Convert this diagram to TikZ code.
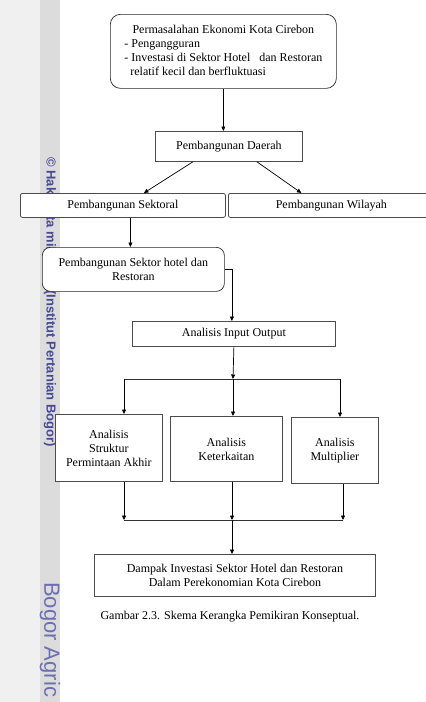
\documentclass[tikz,border=0pt]{standalone}
\usepackage{fontspec}
\setmainfont{Liberation Serif}
\newfontfamily\markfont{Liberation Sans}
\usetikzlibrary{arrows.meta,calc}
\definecolor{page-gray}{RGB}{240,240,240}
\definecolor{strip-gray}{RGB}{220,220,220}
\definecolor{mark-blue}{RGB}{72,72,150}
\definecolor{mark-light}{RGB}{110,110,180}
\tikzset{
    rounded-box/.style = {draw=black!85, fill=white, rounded corners=10pt, line width=0.7pt, align=center, anchor=north west},
    plain-box/.style = {draw=black!70, fill=white, line width=0.8pt, align=center, anchor=north west},
    flow-arrow/.style = {draw=black, line width=0.7pt, -{Triangle[length=4.5pt,width=4pt]}},
    flow-line/.style = {draw=black!80, line width=0.7pt},
    mark-text/.style = {rotate=-90, anchor=west, inner sep=0pt},
}

\begin{document}
\begin{tikzpicture}[x=1pt, y=-1pt, font=\fontsize{12}{14}\selectfont]
\useasboundingbox (0,0) rectangle (426,702);
\clip (0,0) rectangle (426,702);
\fill[page-gray] (0,0) rectangle (40,702);
\fill[strip-gray] (40,0) rectangle (60,702);
\node[mark-text, text=mark-blue, font=\markfont\bfseries\fontsize{13}{14}\selectfont] (mark-top) at (50,157) {\copyright{} Hak cipta milik IPB (Institut Pertanian Bogor)};
\node[mark-text, text=mark-light, font=\markfont\fontsize{22}{24}\selectfont] (mark-bottom) at (50,582) {Bogor Agric};

\node[rounded-box, minimum width=226pt, minimum height=74pt] (problem) at (110,14) {\begin{tabular}{@{}l@{}}
    \multicolumn{1}{@{}c@{}}{Permasalahan Ekonomi Kota Cirebon}\\
    - Pengangguran\\
    - Investasi di Sektor Hotel\ \ \ dan Restoran\\
    \ \ relatif kecil dan berfluktuasi
\end{tabular}};
\node[plain-box, minimum width=147pt, minimum height=30pt] (daerah) at (155,131) {Pembangunan Daerah};
\node[plain-box, rounded corners=2pt, minimum width=205pt, minimum height=24pt] (sektoral) at (20,193) {Pembangunan Sektoral};
\node[plain-box, rounded corners=2pt, minimum width=206pt, minimum height=24pt] (wilayah) at (228,193) {Pembangunan Wilayah};
\node[rounded-box, rounded corners=8pt, minimum width=182pt, minimum height=44pt] (hotel) at (42,247) {Pembangunan Sektor hotel dan\\Restoran};
\node[plain-box, minimum width=203pt, minimum height=25pt] (io) at (132,321) {Analisis Input Output};
\node[plain-box, minimum width=107pt, minimum height=67pt] (struktur) at (55,414) {Analisis\\Struktur\\Permintaan Akhir};
\node[plain-box, minimum width=112pt, minimum height=65pt] (kait) at (170,416) {Analisis\\Keterkaitan};
\node[plain-box, minimum width=87pt, minimum height=66pt] (multi) at (291,417) {Analisis\\Multiplier};
\node[plain-box, minimum width=281pt, minimum height=42pt] (dampak) at (94,554) {Dampak Investasi Sektor Hotel dan Restoran\\Dalam Perekonomian Kota Cirebon};
\node (caption) at (230,617) {Gambar 2.3. Skema Kerangka Pemikiran Konseptual.};

\coordinate (sek-out) at ($(sektoral.south)+(7.5,0)$);
\coordinate (split) at (233,379);
\coordinate (split-l) at (124,379);
\coordinate (split-r) at (340,379);
\coordinate (join) at (232,520);
\coordinate (join-l) at (124,520);
\coordinate (join-r) at (343,520);

\draw[flow-arrow] (problem.south) -- (problem.south |- daerah.north);
\draw[flow-arrow] ($(daerah.south)+(-36,0)$) -- ($(sektoral.north)+(21,0)$);
\draw[flow-arrow] ($(daerah.south)+(28,0)$) -- ($(wilayah.north)+(-30,0)$);
\draw[flow-arrow] (sek-out) -- (sek-out |- hotel.north);
\draw[flow-arrow] (hotel.east) -| ($(io.north)+(-2,0)$);
\draw[flow-arrow] (io.south) -- (split);
\draw[flow-line] (split-l) -- (split-r);
\draw[flow-arrow] (split) -- (split |- kait.north);
\draw[flow-arrow] (split-l) -- (split-l |- struktur.north);
\draw[flow-arrow] (split-r) -- (split-r |- multi.north);
\draw[flow-arrow] (join-l |- struktur.south) -- (join-l);
\draw[flow-arrow] (join |- kait.south) -- (join);
\draw[flow-arrow] (join-r |- multi.south) -- (join-r);
\draw[flow-line] (join-l) -- (join-r);
\draw[flow-arrow] (join) -- (join |- dampak.north);
\end{tikzpicture}
\end{document}
